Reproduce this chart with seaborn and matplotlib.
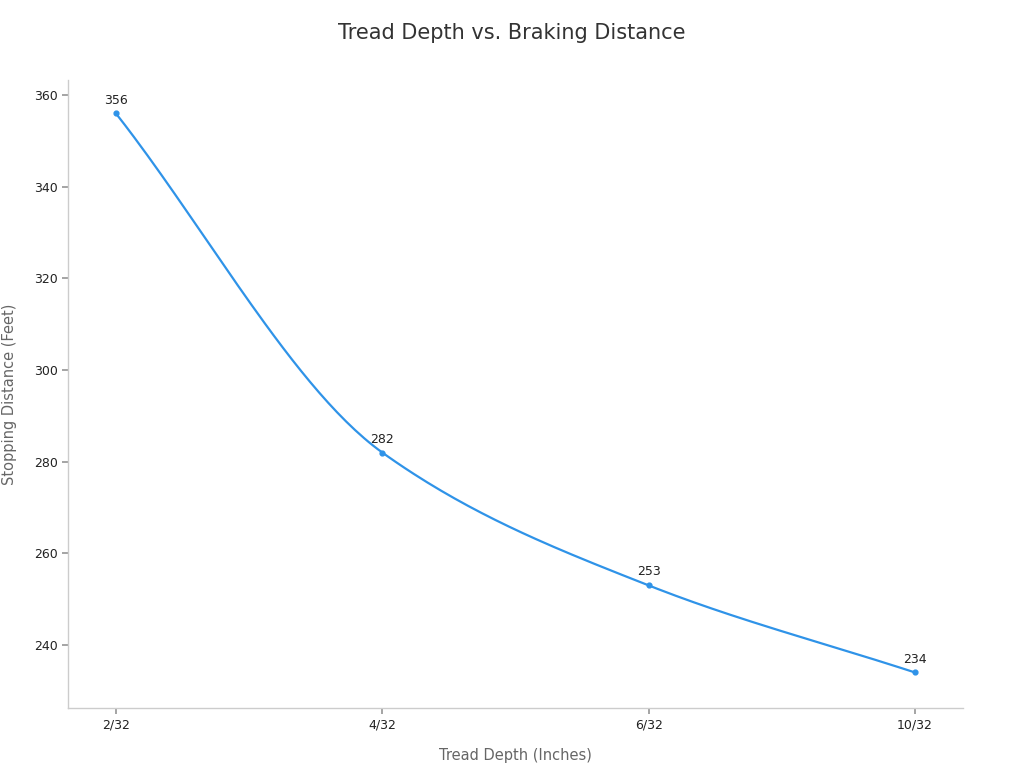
import numpy as np
import matplotlib
matplotlib.use("Agg")
import matplotlib.pyplot as plt
import seaborn as sns

categories = ["2/32", "4/32", "6/32", "10/32"]
stopping = [356, 282, 253, 234]

sns.set_theme(style="white")
plt.rcParams['font.family'] = ['DejaVu Sans']

fig = plt.figure(figsize=(10.24, 7.68), dpi=100)
ax = fig.add_axes([68/1024, 1-708/768, (963-68)/1024, (708-80)/768])

x = np.arange(len(categories), dtype=float)
y = np.array(stopping, dtype=float)

# smooth rendering of the line (monotone cubic through the data points)
d = np.diff(y) / np.diff(x)
m = np.zeros_like(y)
m[0], m[-1] = d[0], d[-1]
for i in range(1, len(y) - 1):
    m[i] = 0 if d[i-1] * d[i] <= 0 else 2 / (1/d[i-1] + 1/d[i])
xs, ys = [], []
for i in range(len(x) - 1):
    t = np.linspace(0, 1, 60)
    h = x[i+1] - x[i]
    h00 = 2*t**3 - 3*t**2 + 1; h10 = t**3 - 2*t**2 + t
    h01 = -2*t**3 + 3*t**2; h11 = t**3 - t**2
    xs.extend(x[i] + t*h)
    ys.extend(h00*y[i] + h10*h*m[i] + h01*y[i+1] + h11*h*m[i+1])

color = "#2f93e8"
sns.lineplot(x=xs, y=ys, ax=ax, color=color, linewidth=1.6, sort=False)
ax.scatter(x, y, color=color, s=12, zorder=3)
for xi, yi in zip(x, y):
    ax.annotate(f"{int(yi)}", (xi, yi), xytext=(0, 5), textcoords="offset points",
                ha="center", va="bottom", fontsize=9, color="#222222")

ax.set_xlim(-0.18, 3.18)
ax.set_ylim(226.25, 363.3)
ax.set_xticks(x)
ax.set_xticklabels(categories)
ax.set_yticks([240, 260, 280, 300, 320, 340, 360])
ax.tick_params(axis="both", labelsize=9, colors="#222222", length=4, color="#999999", direction="out")
ax.tick_params(left=True, bottom=True)
for s in ["top", "right"]:
    ax.spines[s].set_visible(False)
for s in ["left", "bottom"]:
    ax.spines[s].set_color("#cccccc")
    ax.spines[s].set_linewidth(1)
ax.set_xlabel("Tread Depth (Inches)", fontsize=10.5, color="#666666", labelpad=12)
ax.set_ylabel("Stopping Distance (Feet)", fontsize=10.5, color="#666666", labelpad=12)
fig.suptitle("Tread Depth vs. Braking Distance", fontsize=15, color="#333333", y=1-33/768, va="center")

fig.savefig("out.png", dpi=100)
